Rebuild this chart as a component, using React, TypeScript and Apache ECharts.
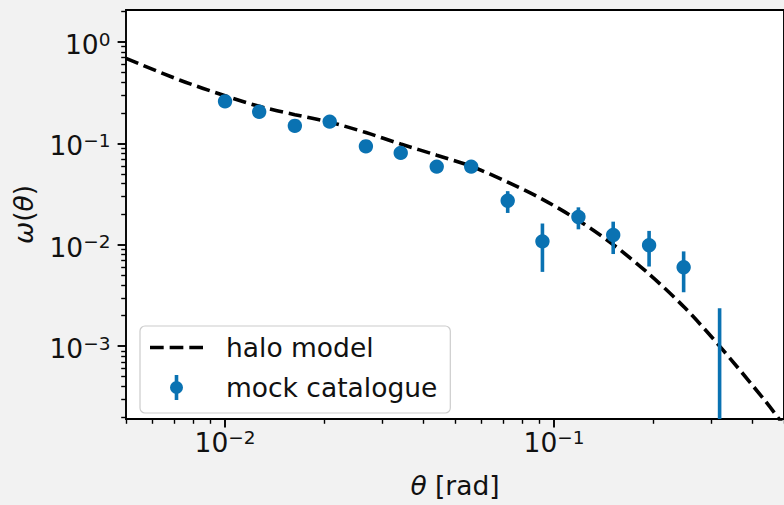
import React, { useEffect, useRef } from "react";
import * as echarts from "echarts";

// Angular bins of the mock catalogue and its correlation measurement
const thetaBins = [0.01, 0.0127, 0.0163, 0.0208, 0.0268, 0.0342, 0.044, 0.056, 0.0723, 0.0922, 0.1186, 0.1513, 0.1945, 0.2477, 0.3186];
const omegaMock = [0.26, 0.205, 0.149, 0.164, 0.0935, 0.0806, 0.059, 0.059, 0.0272, 0.0108, 0.0188, 0.0125, 0.0099, 0.006, 0.00014];
const omegaErr = [0.012, 0.01, 0.008, 0.008, 0.006, 0.005, 0.004, 0.004, 0.0066, 0.0054, 0.0046, 0.0044, 0.0038, 0.0026, 0.00222];

// Halo-model prediction
const thetaModel = [0.005, 0.0073, 0.01, 0.0127, 0.0163, 0.0208, 0.0268, 0.0342, 0.044, 0.056, 0.0723, 0.092, 0.1186, 0.1494, 0.1937, 0.2494, 0.3186, 0.4354, 0.5];
const omegaModel = [0.69, 0.42, 0.295, 0.232, 0.192, 0.162, 0.128, 0.0985, 0.0765, 0.0595, 0.0414, 0.0282, 0.0174, 0.01036, 0.0052, 0.0024, 0.001, 0.000296, 0.000165];

// Axis ranges and tick values
const X_RANGE = [0.005, 0.5];
const Y_RANGE = [0.000191, 2.07];
const xMajorTicks = [0.01, 0.1];
const yMajorTicks = [0.001, 0.01, 0.1, 1];
const minorMultipliers = [2, 3, 4, 5, 6, 7, 8, 9];
const xMinorDecades = [0.001, 0.01, 0.1];
const yMinorDecades = [0.0001, 0.001, 0.01, 0.1, 1];

const BLUE = "#0a72b2";
const INK = "#111111";
const FONT = "DejaVu Sans";
const FS = 26.5;
const DASH = [13.3, 5.8];

function minorTicks(decades: number[]) {
  const out: number[] = [];
  decades.forEach((d) => minorMultipliers.forEach((m) => out.push(parseFloat((m * d).toPrecision(6)))));
  return out;
}

function powerLabel(v: number) {
  const e = Math.round(Math.log10(v));
  const exp = e < 0 ? "\u2212" + String(-e) : String(e);
  return `{b|10}{s|${exp}}`;
}

const powerRich = {
  b: { fontSize: FS, fontFamily: FONT, color: INK, lineHeight: 30, padding: [5, 0, 0, 0] },
  s: { fontSize: 18.5, fontFamily: FONT, color: INK, lineHeight: 18, padding: [0, 0, 6, 0] },
};

// legend glyphs: a marker with its error bar, and a dashed line
const errorIcon =
  "path://M4.7,0 L8.3,0 L8.3,25 L4.7,25 Z M0,12.5 A6.5,6.5 0 1,1 13,12.5 A6.5,6.5 0 1,1 0,12.5 Z";
const dashIcon =
  "path://M0,0 L13.3,0 L13.3,3.6 L0,3.6 Z M19.1,0 L32.4,0 L32.4,3.6 L19.1,3.6 Z M38.2,0 L51.5,0 L51.5,3.6 L38.2,3.6 Z";

export default function App() {
  const ref = useRef<HTMLDivElement>(null);

  useEffect(() => {
    document.body.style.margin = "0";
    const chart = echarts.init(ref.current!, null, { renderer: "svg" });

    const majorTick = { length: 8.4, lineStyle: { color: "#000", width: 1.9 } };
    const minorTick = { length: 4.8, lineStyle: { color: "#000", width: 1.4 } };
    const nameStyle = {
      fontSize: FS,
      fontFamily: FONT,
      color: INK,
      lineHeight: 30,
      rich: { i: { fontSize: FS, fontFamily: FONT, fontStyle: "italic", color: INK, lineHeight: 30 } },
    };

    const option: any = {
      animation: false,
      backgroundColor: "#f2f2f2",
      grid: {
        left: 126,
        top: 10,
        right: -2.4,
        bottom: 77,
        show: true,
        backgroundColor: "#ffffff",
        borderColor: "#000000",
        borderWidth: 1.9,
      },
      xAxis: [
        {
          type: "log",
          min: X_RANGE[0],
          max: X_RANGE[1],
          position: "bottom",
          axisLine: { show: false },
          splitLine: { show: false },
          axisTick: { ...majorTick, customValues: xMajorTicks },
          axisLabel: { customValues: xMajorTicks, formatter: powerLabel, rich: powerRich, margin: 6 },
          name: "{i|θ} [rad]",
          nameLocation: "middle",
          nameGap: 51,
          nameTextStyle: nameStyle,
        },
        {
          type: "log",
          min: X_RANGE[0],
          max: X_RANGE[1],
          position: "bottom",
          axisLine: { show: false },
          splitLine: { show: false },
          axisTick: { ...minorTick, customValues: minorTicks(xMinorDecades) },
          axisLabel: { show: false },
        },
      ],
      yAxis: [
        {
          type: "log",
          min: Y_RANGE[0],
          max: Y_RANGE[1],
          position: "left",
          axisLine: { show: false },
          splitLine: { show: false },
          axisTick: { ...majorTick, customValues: yMajorTicks },
          axisLabel: { customValues: yMajorTicks, formatter: powerLabel, rich: powerRich, margin: 15.5 },
          name: "{i|ω}({i|θ})",
          nameLocation: "middle",
          nameGap: 81,
          nameTextStyle: nameStyle,
        },
        {
          type: "log",
          min: Y_RANGE[0],
          max: Y_RANGE[1],
          position: "left",
          axisLine: { show: false },
          splitLine: { show: false },
          axisTick: { ...minorTick, customValues: minorTicks(yMinorDecades) },
          axisLabel: { show: false },
        },
      ],
      legend: {
        orient: "vertical",
        left: 140,
        top: 326,
        padding: [8, 13, 12, 10],
        itemWidth: 53,
        itemHeight: 25,
        itemGap: 13,
        backgroundColor: "rgba(255,255,255,0.8)",
        borderColor: "#cccccc",
        borderWidth: 1.2,
        borderRadius: 5,
        selectedMode: false,
        formatter: (name: string) => `{g| }{t|${name}}`,
        textStyle: {
          fontSize: FS,
          fontFamily: FONT,
          color: INK,
          lineHeight: 26,
          rich: {
            g: { width: 18, fontSize: FS, lineHeight: 26 },
            t: { fontSize: FS, fontFamily: FONT, color: INK, lineHeight: 26 },
          },
        },
        data: [
          { name: "halo model", icon: dashIcon, itemStyle: { color: "#000", opacity: 1 } },
          { name: "mock catalogue", icon: errorIcon, itemStyle: { color: BLUE, opacity: 1 } },
        ],
      },
      series: [
        {
          name: "halo model",
          type: "line",
          xAxisIndex: 0,
          yAxisIndex: 0,
          data: thetaModel.map((t, i) => [t, omegaModel[i]]),
          symbol: "none",
          smooth: 0.3,
          clip: true,
          itemStyle: { color: "#000" },
          lineStyle: { color: "#000", width: 3.6, type: DASH },
          z: 3,
        },
        {
          name: "mock catalogue errors",
          type: "custom",
          xAxisIndex: 0,
          yAxisIndex: 0,
          clip: true,
          data: thetaBins.map((t, i) => [
            t,
            omegaMock[i],
            Math.max(omegaMock[i] - omegaErr[i], 1e-6),
            omegaMock[i] + omegaErr[i],
          ]),
          encode: { x: 0, y: 1 },
          renderItem: (_params: any, api: any) => {
            const p1 = api.coord([api.value(0), api.value(2)]);
            const p2 = api.coord([api.value(0), api.value(3)]);
            return {
              type: "line",
              shape: { x1: p1[0], y1: p1[1], x2: p2[0], y2: p2[1] },
              style: { stroke: BLUE, lineWidth: 3.6 },
            };
          },
          z: 4,
        },
        {
          name: "mock catalogue",
          type: "scatter",
          xAxisIndex: 0,
          yAxisIndex: 0,
          clip: true,
          data: thetaBins.map((t, i) => [t, omegaMock[i]]),
          symbol: "circle",
          symbolSize: 14.4,
          itemStyle: { color: BLUE, opacity: 1 },
          z: 5,
        },
      ],
    };

    chart.setOption(option);
    return () => chart.dispose();
  }, []);

  return <div ref={ref} style={{ position: "fixed", left: 0, top: 0, width: 784, height: 505 }} />;
}
